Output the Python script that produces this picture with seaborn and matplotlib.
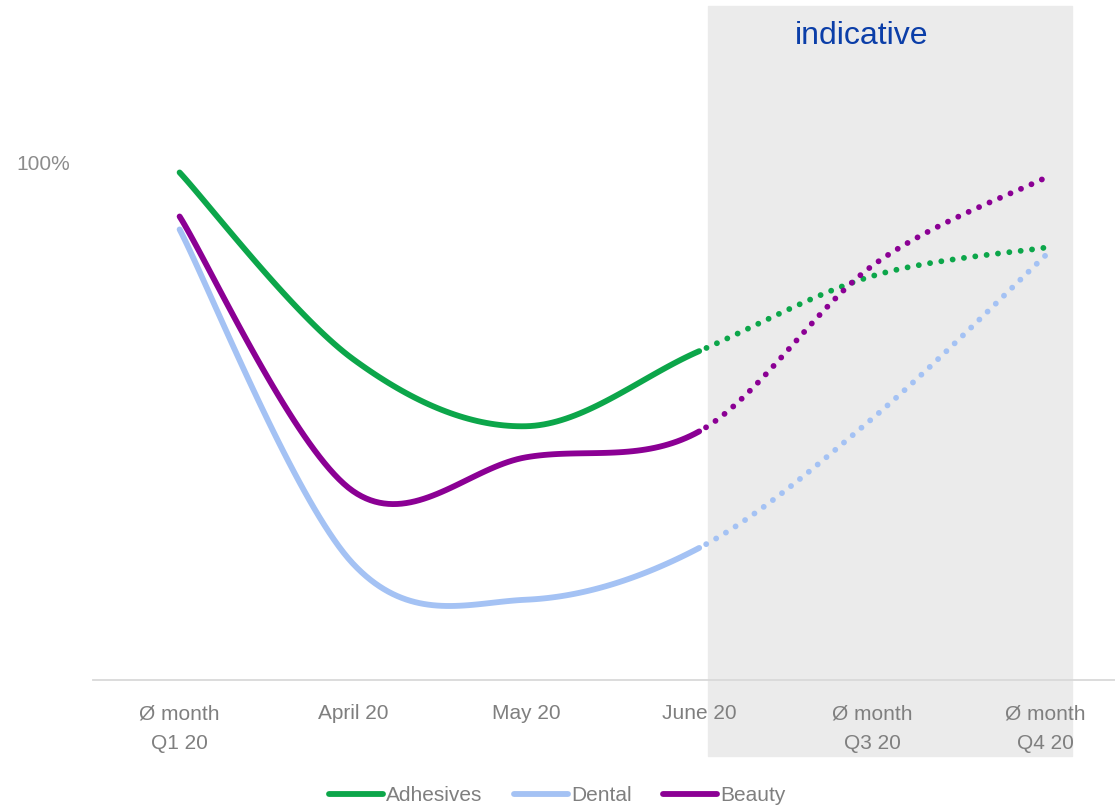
import numpy as np
import matplotlib
matplotlib.use('Agg')
import matplotlib.pyplot as plt
import seaborn as sns
from matplotlib.patches import Rectangle
from matplotlib.lines import Line2D

# 数据 (values in %)
periods = ["Ø month\nQ1 20", "April 20", "May 20", "June 20", "Ø month\nQ3 20", "Ø month\nQ4 20"]
adhesives = [98, 62, 49, 63.5, 78, 83.5]
dental = [87, 22.5, 15.5, 25.5, 50.5, 82]
beauty = [89.5, 36.5, 43, 48, 80, 97]
series_names = ["Adhesives", "Dental", "Beauty"]
last_actual = 3  # June 20, afterwards indicative (dotted)

colors = {"Adhesives": "#0CA64A", "Dental": "#A4C2F4", "Beauty": "#8B0094"}

sns.set_theme(style='white')
plt.rcParams['font.family'] = ['Liberation Sans', 'DejaVu Sans']

N = 40  # samples per segment


def smooth(xs, ys, n=N):
    # catmull-rom curve, like excel's "smoothed line"
    p = np.column_stack([xs, ys]).astype(float)
    p = np.vstack([p[0], p, p[-1]])
    t = np.linspace(0, 1, n)[:, None]
    pts = []
    for i in range(1, len(p) - 2):
        p0, p1, p2, p3 = p[i - 1], p[i], p[i + 1], p[i + 2]
        m1 = (p2 - p0) / 2
        m2 = (p3 - p1) / 2
        h00 = 2 * t**3 - 3 * t**2 + 1
        h10 = t**3 - 2 * t**2 + t
        h01 = -2 * t**3 + 3 * t**2
        h11 = t**3 - t**2
        pts.append(h00 * p1 + h10 * m1 + h01 * p2 + h11 * m2)
    pts = np.vstack(pts)
    return pts[:, 0], pts[:, 1]


fig = plt.figure(figsize=(11.15, 8.06), dpi=100)
fig.patch.set_facecolor('white')
ax = fig.add_axes([93 / 1115, 126 / 806, 1022 / 1115, 680 / 806])
ax.set_facecolor('none')

# grey "indicative" area
fig.add_artist(Rectangle((708 / 1115, 50 / 806), 364 / 1115, 750 / 806,
                         transform=fig.transFigure, color='#EBEBEB', zorder=-1))
fig.text(862 / 1115, 1 - 36 / 806, 'indicative', ha='center', va='center',
         color='#0B3EA8', fontsize=23)

x = np.arange(len(periods))
data = {"Adhesives": adhesives, "Dental": dental, "Beauty": beauty}
lw = 4.2
cut = last_actual * N
for name in series_names:
    sx, sy = smooth(x, data[name])
    sns.lineplot(x=sx[:cut], y=sy[:cut], ax=ax, color=colors[name], lw=lw, sort=False,
                 estimator=None, solid_capstyle='round')
    sns.lineplot(x=sx[cut:], y=sy[cut:], ax=ax, color=colors[name], lw=lw, sort=False,
                 estimator=None, linestyle=(0.6, (0.01, 1.95)), dash_capstyle='round')

ax.set_xlim(-0.5, -0.5 + 1022 / 173.2)
ax.set_ylim(0, 131.3)
ax.set_xticks(x, periods)
ax.set_yticks([100], ['100%'])
for lab in ax.get_xticklabels():
    lab.set_linespacing(1.7)
ax.tick_params(axis='x', length=0, pad=17.5, colors='#7F7F7F', labelsize=15)
ax.tick_params(axis='y', length=0, pad=16.5, colors='#8C8C8C', labelsize=15)
for s in ['top', 'right', 'left']:
    ax.spines[s].set_visible(False)
ax.spines['bottom'].set_color('#D9D9D9')
ax.spines['bottom'].set_linewidth(1.3)
ax.set_xlabel('')
ax.set_ylabel('')

handles = [Line2D([0], [0], color=colors[n], lw=lw, solid_capstyle='round') for n in series_names]
fig.legend(handles, series_names, loc='lower center', bbox_to_anchor=(0.5, -0.022), ncol=3,
           frameon=False, fontsize=15, labelcolor='#7F7F7F', handlelength=2.6,
           handletextpad=0.15, columnspacing=1.5)

fig.savefig('out.png', dpi=100)
